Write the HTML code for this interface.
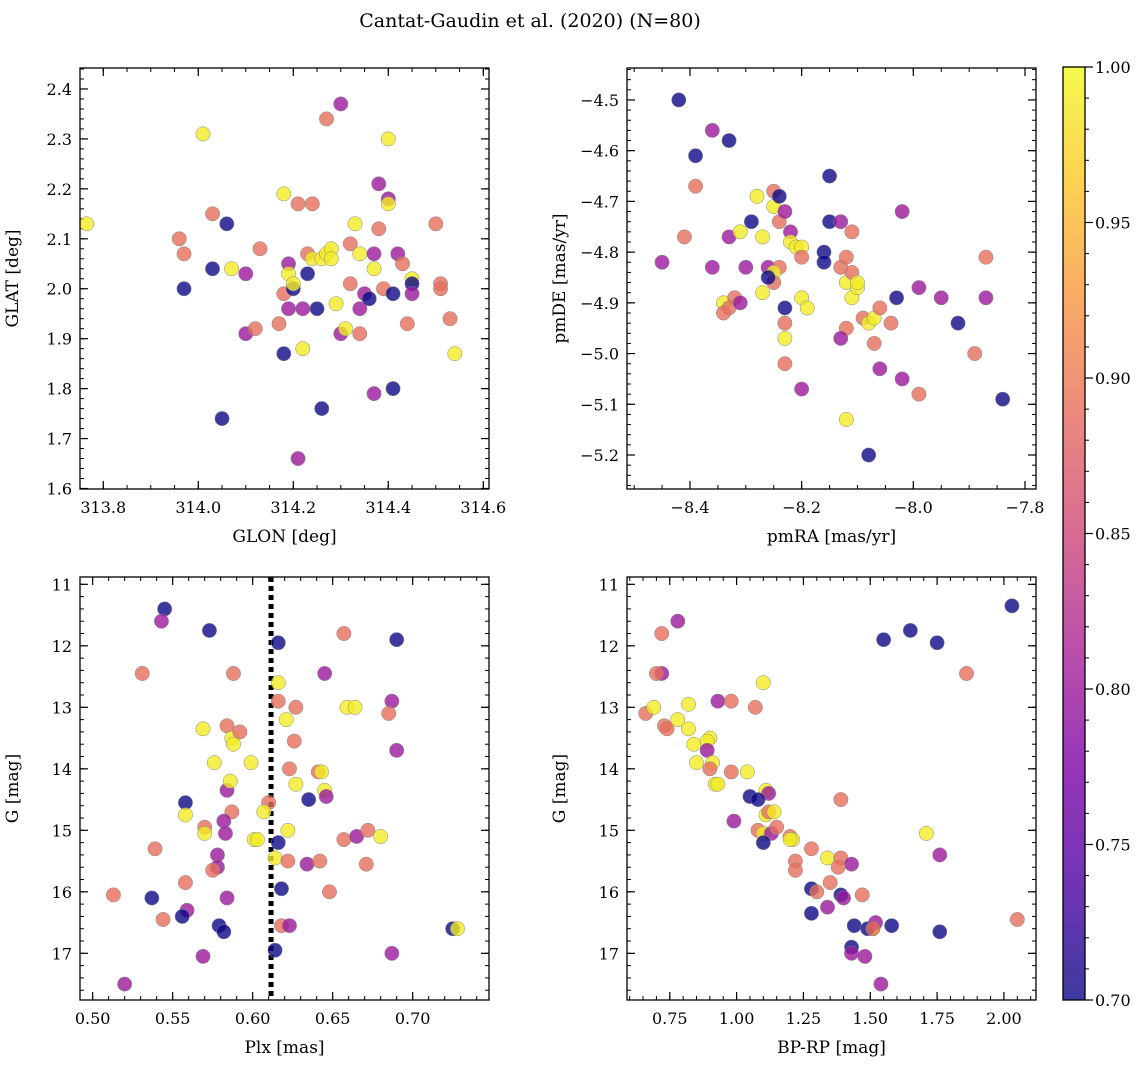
<!DOCTYPE html>
<html><head><meta charset="utf-8"><style>
body{margin:0;background:#fff;}
svg{display:block;font-family:"DejaVu Serif","Liberation Serif",serif;}
</style></head><body>
<svg id="fig" width="1148" height="1067" viewBox="0 0 1148 1067" xmlns="http://www.w3.org/2000/svg">
<defs>
<linearGradient id="plasma" x1="0" y1="1" x2="0" y2="0">
<stop offset="0" stop-color="#0d0887"/><stop offset="0.125" stop-color="#4c02a1"/><stop offset="0.25" stop-color="#7e03a8"/><stop offset="0.375" stop-color="#a92395"/><stop offset="0.5" stop-color="#cc4778"/><stop offset="0.625" stop-color="#e56b5d"/><stop offset="0.75" stop-color="#f89540"/><stop offset="0.875" stop-color="#fdc527"/><stop offset="1" stop-color="#f0f921"/>
</linearGradient>
</defs>
<text x="530" y="27" text-anchor="middle" font-size="19">Cantat-Gaudin et al. (2020) (N=80)</text>
</svg>
<script>
const Y=0.99,O=0.89,P=0.80,B=0.70;
const skyPos=[[313.765,2.13,Y],[314.01,2.31,Y],[313.96,2.10,O],[313.97,2.07,O],[313.97,2.00,B],[314.03,2.15,O],[314.03,2.04,B],[314.06,2.13,B],[314.05,1.74,B],[314.07,2.04,Y],[314.10,2.03,P],[314.10,1.91,P],[314.12,1.92,O],[314.13,2.08,O],[314.17,1.93,O],[314.18,1.99,O],[314.18,1.87,B],[314.18,2.19,Y],[314.19,2.05,P],[314.19,2.03,Y],[314.20,2.00,B],[314.20,2.01,Y],[314.19,1.96,P],[314.21,2.17,O],[314.22,1.96,P],[314.22,1.88,Y],[314.21,1.66,P],[314.23,2.03,B],[314.24,2.17,O],[314.23,2.07,O],[314.24,2.06,Y],[314.25,1.96,B],[314.26,2.06,Y],[314.27,2.07,Y],[314.26,1.76,B],[314.28,2.08,Y],[314.27,2.34,O],[314.28,2.06,Y],[314.29,1.97,Y],[314.30,2.37,P],[314.30,1.91,P],[314.32,2.09,O],[314.31,1.92,Y],[314.32,2.01,O],[314.33,2.13,Y],[314.34,2.07,Y],[314.34,1.91,O],[314.34,1.96,P],[314.35,1.99,P],[314.36,1.98,B],[314.37,2.04,Y],[314.37,2.07,P],[314.37,1.79,P],[314.38,2.21,P],[314.38,2.12,O],[314.39,2.00,O],[314.40,2.30,Y],[314.40,2.18,P],[314.40,2.17,Y],[314.41,1.99,B],[314.41,1.80,B],[314.42,2.07,P],[314.43,2.05,O],[314.44,1.93,O],[314.45,2.02,Y],[314.45,2.01,B],[314.45,1.99,P],[314.50,2.13,O],[314.51,2.01,O],[314.51,2.00,O],[314.53,1.94,O],[314.54,1.87,Y]];
const pmPos=[[-8.42,-4.50,B],[-8.39,-4.61,B],[-8.33,-4.58,B],[-8.36,-4.56,P],[-8.39,-4.67,O],[-8.45,-4.82,P],[-8.41,-4.77,O],[-8.36,-4.83,P],[-8.33,-4.77,P],[-8.31,-4.76,Y],[-8.30,-4.83,P],[-8.29,-4.74,B],[-8.28,-4.69,Y],[-8.27,-4.77,Y],[-8.26,-4.83,P],[-8.25,-4.68,O],[-8.25,-4.71,Y],[-8.24,-4.69,B],[-8.24,-4.74,O],[-8.22,-4.76,P],[-8.24,-4.83,O],[-8.25,-4.84,Y],[-8.25,-4.86,O],[-8.23,-4.72,P],[-8.22,-4.78,Y],[-8.21,-4.79,Y],[-8.20,-4.79,Y],[-8.20,-4.81,O],[-8.23,-4.91,B],[-8.23,-4.94,O],[-8.23,-4.97,Y],[-8.23,-5.02,O],[-8.20,-4.89,Y],[-8.19,-4.91,Y],[-8.20,-5.07,P],[-8.16,-4.80,B],[-8.16,-4.82,B],[-8.15,-4.65,B],[-8.15,-4.74,B],[-8.13,-4.74,P],[-8.13,-4.83,O],[-8.12,-4.86,Y],[-8.12,-4.81,O],[-8.11,-4.84,O],[-8.11,-4.76,O],[-8.11,-4.89,Y],[-8.10,-4.87,Y],[-8.10,-4.86,Y],[-8.09,-4.93,O],[-8.12,-4.95,O],[-8.13,-4.97,P],[-8.12,-5.13,Y],[-8.08,-4.94,Y],[-8.07,-4.93,Y],[-8.07,-4.98,O],[-8.06,-4.91,O],[-8.06,-5.03,P],[-8.08,-5.20,B],[-8.04,-4.94,O],[-8.03,-4.89,B],[-8.02,-4.72,P],[-8.02,-5.05,P],[-7.99,-4.87,P],[-7.99,-5.08,O],[-7.95,-4.89,P],[-7.92,-4.94,B],[-7.89,-5.00,O],[-7.87,-4.81,O],[-7.87,-4.89,P],[-7.84,-5.09,B],[-8.34,-4.90,Y],[-8.33,-4.91,O],[-8.32,-4.89,O],[-8.31,-4.90,P],[-8.27,-4.88,Y],[-8.26,-4.85,B],[-8.34,-4.92,O]];
const plxG=[[0.545,11.4,B],[0.543,11.6,P],[0.573,11.75,B],[0.531,12.45,O],[0.588,12.45,O],[0.616,11.95,B],[0.657,11.8,O],[0.690,11.9,B],[0.616,12.6,Y],[0.645,12.45,P],[0.616,12.9,O],[0.627,13.0,O],[0.621,13.2,Y],[0.569,13.35,Y],[0.584,13.3,O],[0.587,13.5,Y],[0.588,13.6,Y],[0.592,13.4,O],[0.626,13.55,O],[0.659,13.0,Y],[0.664,13.0,Y],[0.687,12.9,P],[0.685,13.1,O],[0.690,13.7,P],[0.576,13.9,Y],[0.599,13.9,Y],[0.623,14.0,O],[0.641,14.05,O],[0.643,14.05,Y],[0.627,14.25,Y],[0.645,14.35,Y],[0.646,14.45,P],[0.635,14.5,B],[0.584,14.35,P],[0.586,14.2,Y],[0.587,14.7,O],[0.558,14.55,B],[0.610,14.55,O],[0.607,14.7,Y],[0.582,14.85,P],[0.570,14.95,O],[0.570,15.05,Y],[0.558,14.75,Y],[0.583,15.05,P],[0.601,15.15,Y],[0.603,15.15,Y],[0.614,15.45,Y],[0.616,15.2,B],[0.622,15.0,Y],[0.622,15.5,O],[0.578,15.4,P],[0.578,15.6,P],[0.575,15.65,O],[0.539,15.3,O],[0.558,15.85,O],[0.634,15.55,P],[0.642,15.5,O],[0.657,15.15,O],[0.665,15.1,P],[0.672,15.0,O],[0.671,15.55,O],[0.680,15.1,Y],[0.618,15.95,B],[0.648,16.0,O],[0.584,16.1,P],[0.559,16.3,P],[0.556,16.4,B],[0.537,16.1,B],[0.513,16.05,O],[0.544,16.45,O],[0.579,16.55,B],[0.582,16.65,B],[0.618,16.55,O],[0.623,16.55,P],[0.614,16.95,B],[0.569,17.05,P],[0.687,17.0,P],[0.725,16.6,B],[0.728,16.6,Y],[0.520,17.5,P]];
const cmdG=[[2.03,11.35,B],[1.65,11.75,B],[1.55,11.9,B],[1.75,11.95,B],[0.78,11.6,P],[0.72,11.8,O],[0.72,12.45,P],[0.70,12.45,O],[1.10,12.6,Y],[1.86,12.45,O],[0.66,13.1,O],[0.69,13.0,Y],[0.82,12.95,Y],[0.93,12.9,P],[0.98,12.9,O],[1.07,13.0,O],[0.73,13.3,O],[0.78,13.2,Y],[0.74,13.35,O],[0.82,13.35,Y],[0.90,13.5,Y],[0.84,13.6,Y],[0.89,13.55,Y],[0.89,13.7,P],[0.85,13.9,Y],[0.91,13.9,Y],[0.90,14.0,O],[0.98,14.05,O],[1.04,14.05,Y],[0.92,14.25,Y],[0.93,14.25,Y],[1.11,14.35,Y],[1.12,14.4,P],[1.39,14.5,O],[1.05,14.45,B],[1.08,14.5,B],[1.11,14.75,Y],[1.12,14.7,O],[1.14,14.7,Y],[0.99,14.85,P],[1.08,15.0,O],[1.10,15.05,Y],[1.13,15.05,P],[1.10,15.2,B],[1.15,14.95,O],[1.20,15.1,O],[1.21,15.15,Y],[1.20,15.15,Y],[1.28,15.3,O],[1.34,15.45,Y],[1.39,15.45,O],[1.43,15.55,P],[1.38,15.6,O],[1.22,15.5,O],[1.22,15.65,O],[1.28,15.95,B],[1.30,16.0,O],[1.35,15.85,O],[1.39,16.05,B],[1.47,16.05,O],[1.34,16.25,P],[1.28,16.35,B],[1.40,16.1,P],[1.44,16.55,B],[1.51,16.6,Y],[1.49,16.6,B],[1.52,16.5,P],[1.58,16.55,B],[1.43,16.9,B],[1.43,17.0,P],[1.48,17.05,P],[1.54,17.5,P],[1.71,15.05,Y],[1.76,15.4,P],[1.76,16.65,B],[2.05,16.45,O],[1.51,16.6,O]];
const plxMean=0.6115;
const cbTicks=[0.70,0.75,0.80,0.85,0.90,0.95,1.00];

const NS="http://www.w3.org/2000/svg";
const svg=document.getElementById('fig');
function mk(tag,attrs,parent){const e=document.createElementNS(NS,tag);for(const k in attrs)e.setAttribute(k,attrs[k]);(parent||svg).appendChild(e);return e;}
const stops=[[0,13,8,135],[.125,76,2,161],[.25,126,3,168],[.375,169,35,149],[.5,204,71,120],[.625,229,107,93],[.75,248,149,64],[.875,253,197,39],[1,240,249,33]];
function plasma(v){let t=Math.max(0,Math.min(1,(v-0.7)/0.3));for(let i=1;i<stops.length;i++){if(t<=stops[i][0]){const a=stops[i-1],b=stops[i],f=(t-a[0])/(b[0]-a[0]);return `rgb(${[1,2,3].map(j=>Math.round(a[j]+(b[j]-a[j])*f)).join(',')})`;}}return 'rgb(240,249,33)';}
function fmt(v,d){return (v<0?'\u2212':'')+Math.abs(v).toFixed(d);}
function panel(o){
  const g=mk('g',{});  
  const sx=v=>o.x0+(v-o.xmin)/(o.xmax-o.xmin)*(o.x1-o.x0);
  const sy=v=>o.inv? o.y0+(v-o.ymin)/(o.ymax-o.ymin)*(o.y1-o.y0) : o.y1-(v-o.ymin)/(o.ymax-o.ymin)*(o.y1-o.y0);
  const eps=1e-9;
  for(let v=Math.ceil(o.xmin/o.xmn-eps)*o.xmn; v<=o.xmax+eps; v+=o.xmn){const x=sx(v);mk('line',{x1:x,x2:x,y1:o.y1,y2:o.y1-4,stroke:'#000','stroke-width':1},g);mk('line',{x1:x,x2:x,y1:o.y0,y2:o.y0+4,stroke:'#000','stroke-width':1},g);}
  for(let v=Math.ceil(o.ymin/o.ymn-eps)*o.ymn; v<=o.ymax+eps; v+=o.ymn){const y=sy(v);mk('line',{x1:o.x0,x2:o.x0+4,y1:y,y2:y,stroke:'#000','stroke-width':1},g);mk('line',{x1:o.x1,x2:o.x1-4,y1:y,y2:y,stroke:'#000','stroke-width':1},g);}
  o.xt.forEach(v=>{const x=sx(v);mk('line',{x1:x,x2:x,y1:o.y1,y2:o.y1-8,stroke:'#000','stroke-width':1.2},g);mk('line',{x1:x,x2:x,y1:o.y0,y2:o.y0+8,stroke:'#000','stroke-width':1.2},g);
    const t=mk('text',{x:x,y:o.y1+24,'text-anchor':'middle','font-size':16},g);t.textContent=fmt(v,o.xd);});
  o.yt.forEach(v=>{const y=sy(v);mk('line',{x1:o.x0,x2:o.x0+8,y1:y,y2:y,stroke:'#000','stroke-width':1.2},g);mk('line',{x1:o.x1,x2:o.x1-8,y1:y,y2:y,stroke:'#000','stroke-width':1.2},g);
    const t=mk('text',{x:o.x0-8,y:y+6,'text-anchor':'end','font-size':16},g);t.textContent=fmt(v,o.yd);});
  if(o.vline!==undefined){const l=mk('line',{x1:sx(o.vline),x2:sx(o.vline),y1:o.y0,y2:o.y1,stroke:'#000','stroke-width':5,'stroke-dasharray':'5,4'},g);}
  o.data.forEach(d=>{const c=mk('circle',{cx:sx(d[0]),cy:sy(d[1]),r:7.2,fill:plasma(d[2]),'fill-opacity':0.8,stroke:'#888','stroke-width':0.5},g);
    
    });
  mk('rect',{x:o.x0,y:o.y0,width:o.x1-o.x0,height:o.y1-o.y0,fill:'none',stroke:'#000','stroke-width':1.3},g);
  const xl=mk('text',{x:(o.x0+o.x1)/2,y:o.y1+53,'text-anchor':'middle','font-size':17},g);xl.textContent=o.xl;
  const cx=o.x0-62,cy=(o.y0+o.y1)/2;
  const yl=mk('text',{x:cx,y:cy,'text-anchor':'middle','font-size':17,transform:`rotate(-90 ${cx} ${cy})`},g);yl.textContent=o.yl;
}
function rng(a,b,s){const r=[];for(let v=a;v<=b+1e-9;v+=s)r.push(+v.toFixed(6));return r;}
panel({name:'glon-glat-panel',data:skyPos,x0:80,x1:489,y0:68,y1:489,xmin:313.751,xmax:314.612,ymin:1.599,ymax:2.442,xt:rng(313.8,314.6,0.2),yt:rng(1.6,2.4,0.1),xmn:0.05,ymn:0.02,xd:1,yd:1,xl:'GLON [deg]',yl:'GLAT [deg]'});
panel({name:'proper-motion-panel',data:pmPos,x0:627,x1:1036,y0:68,y1:489,xmin:-8.5128,xmax:-7.7803,ymin:-5.267,ymax:-4.437,xt:[-8.4,-8.2,-8.0,-7.8],yt:rng(-5.2,-4.5,0.1),xmn:0.05,ymn:0.02,xd:1,yd:1,xl:'pmRA [mas/yr]',yl:'pmDE [mas/yr]'});
panel({name:'parallax-magnitude-panel',data:plxG,inv:true,vline:plxMean,x0:80,x1:489,y0:577,y1:1000,xmin:0.4921,xmax:0.7477,ymin:10.881,ymax:17.759,xt:rng(0.5,0.7,0.05),yt:rng(11,17,1),xmn:0.01,ymn:0.2,xd:2,yd:0,xl:'Plx [mas]',yl:'G [mag]'});
panel({name:'color-magnitude-panel',data:cmdG,inv:true,x0:627,x1:1036,y0:577,y1:1000,xmin:0.590,xmax:2.120,ymin:10.881,ymax:17.759,xt:rng(0.75,2.0,0.25),yt:rng(11,17,1),xmn:0.05,ymn:0.2,xd:2,yd:0,xl:'BP-RP [mag]',yl:'G [mag]'});
const cb=mk('g',{});
const cy0=67,cy1=1000,cx0=1063,cx1=1085;
mk('rect',{x:cx0,y:cy0,width:cx1-cx0,height:cy1-cy0,fill:'url(#plasma)','fill-opacity':0.8},cb);
const cbY=v=>cy1-(v-0.7)/0.3*(cy1-cy0);
for(let v=0.70;v<=1.0001;v+=0.01){const y=cbY(v);mk('line',{x1:cx1,x2:cx1+4,y1:y,y2:y,stroke:'#000','stroke-width':1},cb);}
cbTicks.forEach(v=>{const y=cbY(v);mk('line',{x1:cx1,x2:cx1+8,y1:y,y2:y,stroke:'#000','stroke-width':1.2},cb);const t=mk('text',{x:cx1+10,y:y+6,'font-size':16},cb);t.textContent=v.toFixed(2);});
mk('rect',{x:cx0,y:cy0,width:cx1-cx0,height:cy1-cy0,fill:'none',stroke:'#000','stroke-width':1.3},cb);
</script>
</body></html>
